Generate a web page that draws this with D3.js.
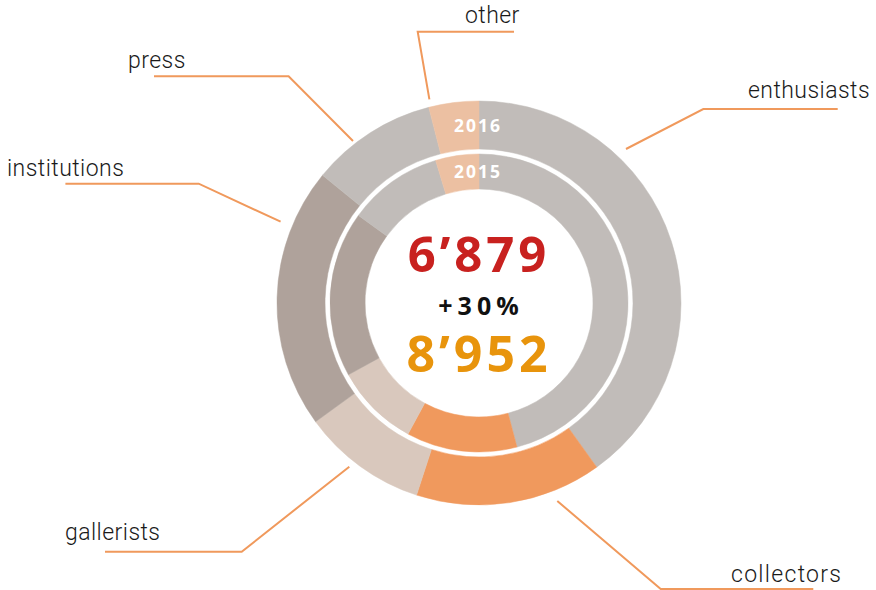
<!DOCTYPE html>
<html>
<head>
<meta charset="utf-8">
<script src="https://cdn.jsdelivr.net/npm/d3@7"></script>
<style>
  html, body { margin: 0; padding: 0; background: #fff; }
  svg { display: block; }
</style>
</head>
<body>
<svg id="chart" width="876" height="590"></svg>
<script>
// ---- data ----
const categories = ["enthusiasts", "collectors", "gallerists", "institutions", "press", "other"];
const share2016 = [40.1, 14.9, 10.0, 20.9, 10.1, 4.0];
const share2015 = [45.9, 12.0, 9.1, 18.0, 10.3, 4.7];
const years = ["2015", "2016"];
const total2015 = "6’879";
const total2016 = "8’952";
const growth = "+30%";

// ---- styles / layout ----
const colors = {
  enthusiasts: "#c1bcb9",
  collectors: "#f0995d",
  gallerists: "#d9c8bd",
  institutions: "#afa29b",
  press: "#c1bcb9",
  other: "#ecc0a2"
};
const cx = 479, cy = 303;
const outerRing = { inner: 154, outer: 202 };
const innerRing = { inner: 114, outer: 149 };
const lineColor = "#f0995c";

// label layout: leader polyline and text anchor (pixel layout)
const labelLayout = {
  other:        { pts: [[429.4, 99.3], [417.7, 31.7], [514, 31.7]], tx: 465, ty: 23 },
  press:        { pts: [[353, 141], [288.6, 76.3], [154, 76.3]], tx: 128, ty: 68 },
  institutions: { pts: [[280.6, 221.7], [198.7, 183.7], [65.4, 183.7]], tx: 7, ty: 176 },
  gallerists:   { pts: [[349.3, 466.7], [241.7, 551.7], [105, 551.7]], tx: 65, ty: 540 },
  collectors:   { pts: [[557.3, 501], [660.7, 589], [813.3, 589]], tx: 731, ty: 582, ls: 1.3 },
  enthusiasts:  { pts: [[626, 149], [703.3, 109], [837.7, 109]], tx: 748, ty: 98 }
};

const svg = d3.select("#chart");
const g = svg.append("g").attr("transform", `translate(${cx},${cy})`);

const pie = d3.pie().sort(null).value(d => d.v).startAngle(0).endAngle(2 * Math.PI);

function ring(values, radii) {
  const data = categories.map((c, i) => ({ c, v: values[i] }));
  const arc = d3.arc().innerRadius(radii.inner).outerRadius(radii.outer);
  g.append("g").selectAll("path")
    .data(pie(data))
    .join("path")
    .attr("d", arc)
    .attr("fill", d => colors[d.data.c])
    .attr("stroke", d => colors[d.data.c])
    .attr("stroke-width", 0.5);
}
ring(share2016, outerRing);
ring(share2015, innerRing);

// year labels in the "other" band
[[years[1], 131.7], [years[0], 178.3]].forEach(([t, y]) => {
  g.append("text")
    .attr("x", -1).attr("y", y - cy)
    .attr("text-anchor", "middle")
    .attr("font-family", "'Open Sans', sans-serif")
    .attr("font-weight", 700)
    .attr("font-size", 17.5)
    .attr("letter-spacing", 2)
    .attr("fill", "#fff")
    .text(t);
});

// center texts
g.append("text")
  .attr("x", 0).attr("y", 272 - cy)
  .attr("text-anchor", "middle")
  .attr("font-family", "'Open Sans', sans-serif")
  .attr("font-weight", 700)
  .attr("font-size", 49)
  .attr("letter-spacing", 4)
  .attr("fill", "#c8211f")
  .text(total2015);
g.append("text")
  .attr("x", 2).attr("y", 315 - cy)
  .attr("text-anchor", "middle")
  .attr("font-family", "'Open Sans', sans-serif")
  .attr("font-weight", 700)
  .attr("font-size", 25)
  .attr("letter-spacing", 5)
  .attr("fill", "#111")
  .text(growth);
g.append("text")
  .attr("x", 0).attr("y", 371.5 - cy)
  .attr("text-anchor", "middle")
  .attr("font-family", "'Open Sans', sans-serif")
  .attr("font-weight", 700)
  .attr("font-size", 50)
  .attr("letter-spacing", 4)
  .attr("fill", "#e8940c")
  .text(total2016);

// leader lines & category labels
const line = d3.line();
const lab = svg.append("g");
categories.forEach(c => {
  const L = labelLayout[c];
  lab.append("path")
    .attr("d", line(L.pts))
    .attr("fill", "none")
    .attr("stroke", lineColor)
    .attr("stroke-width", 2);
  lab.append("text")
    .attr("x", L.tx).attr("y", L.ty)
    .attr("font-family", "Roboto, sans-serif")
    .attr("font-weight", 300)
    .attr("font-size", 23)
    .attr("letter-spacing", L.ls || 0.45)
    .attr("fill", "#1a1a1a")
    .text(c);
});
</script>
</body>
</html>
